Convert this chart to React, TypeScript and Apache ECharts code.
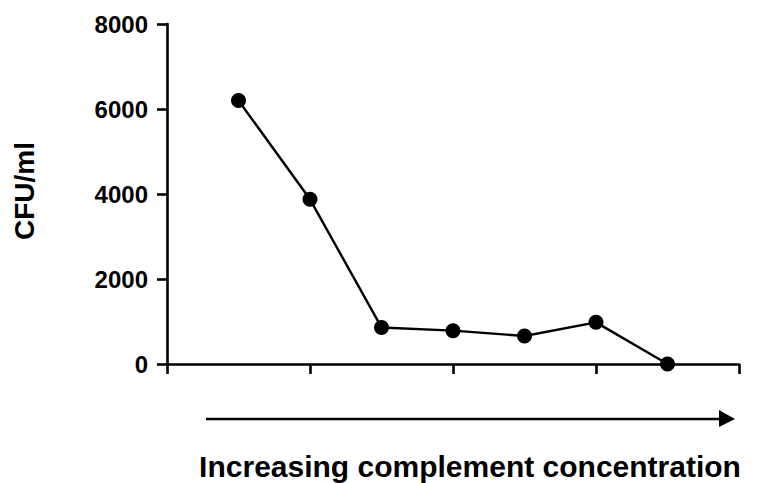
import React, { useEffect, useRef } from "react";
import * as echarts from "echarts";

const xPositions = [1, 2, 3, 4, 5, 6, 7];
const cfuValues = [6200, 3875, 860, 785, 660, 980, 0];
const yTicks = { min: 0, max: 8000, interval: 2000 };
const xTicks = { min: 0, max: 8, interval: 2 };
const yAxisTitle = "CFU/ml";
const xAxisTitle = "Increasing complement concentration";

const FONT = "Arial, 'Liberation Sans', Helvetica, sans-serif";

export default function App() {
  const ref = useRef<HTMLDivElement>(null);
  useEffect(() => {
    if (!ref.current) return;
    const chart = echarts.init(ref.current, undefined, { renderer: "svg" });
    const data = xPositions.map((x, i) => [x, cfuValues[i]]);
    chart.setOption({
      animation: false,
      backgroundColor: "#ffffff",
      grid: { left: 167, right: 36, top: 24, bottom: 119, containLabel: false },
      xAxis: {
        type: "value",
        min: xTicks.min,
        max: xTicks.max,
        interval: xTicks.interval,
        axisLine: { show: true, lineStyle: { color: "#000", width: 2.6 } },
        axisTick: { show: true, inside: false, length: 10, lineStyle: { color: "#000", width: 2.6 } },
        axisLabel: { show: false },
        splitLine: { show: false },
      },
      yAxis: {
        type: "value",
        min: yTicks.min,
        max: yTicks.max,
        interval: yTicks.interval,
        axisLine: { show: true, lineStyle: { color: "#000", width: 2.6 } },
        axisTick: { show: true, inside: false, length: 10, lineStyle: { color: "#000", width: 2.6 } },
        axisLabel: {
          show: true,
          margin: 19,
          color: "#000",
          fontFamily: FONT,
          fontWeight: "bold",
          fontSize: 24,
          formatter: (v: number) => String(v),
        },
        splitLine: { show: false },
      },
      series: [
        {
          type: "line",
          data,
          clip: false,
          symbol: "circle",
          symbolSize: 15,
          itemStyle: { color: "#000" },
          lineStyle: { color: "#000", width: 2.4 },
        },
      ],
      graphic: [
        {
          type: "text",
          x: 24,
          y: 191,
          rotation: Math.PI / 2,
          style: {
            text: yAxisTitle,
            fill: "#000",
            font: `bold 28px ${FONT}`,
            align: "center",
            verticalAlign: "middle",
          },
        },
        {
          type: "line",
          shape: { x1: 206, y1: 419, x2: 722, y2: 419 },
          style: { stroke: "#000", lineWidth: 2.6 },
        },
        {
          type: "polygon",
          shape: { points: [[719, 410], [735, 419], [719, 427]] },
          style: { fill: "#000" },
        },
        {
          type: "text",
          x: 470,
          y: 466,
          style: {
            text: xAxisTitle,
            fill: "#000",
            font: `bold 30px ${FONT}`,
            align: "center",
            verticalAlign: "middle",
          },
        },
      ],
    });
    return () => chart.dispose();
  }, []);
  return <div ref={ref} style={{ width: 775, height: 483, position: "absolute", left: 0, top: 0 }} />;
}
